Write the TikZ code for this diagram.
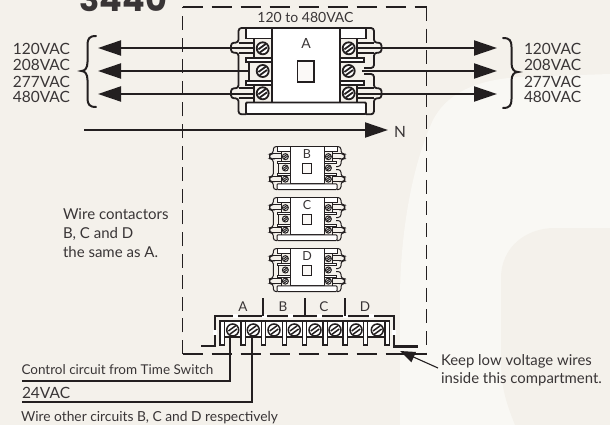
\documentclass[tikz,border=0pt]{standalone}
\usepackage{fontspec}
\setmainfont{Lato}
\newfontfamily\titlefont{Poppins}[BoldFont=* Bold]
\usetikzlibrary{arrows.meta}
\definecolor{ink}{HTML}{231F20}
\definecolor{paper}{HTML}{F4F1EB}
\definecolor{paperlight}{HTML}{F9F8F4}
\tikzset{
  every node/.style={inner sep=0pt,outer sep=0pt,text=ink!90},
  lbl/.style={anchor=base west,font=\fontsize{#1}{#1}\selectfont},
  lblc/.style={anchor=base,font=\fontsize{#1}{#1}\selectfont},
  lblr/.style={anchor=base east,font=\fontsize{#1}{#1}\selectfont},
  wire/.style={draw=ink,line width=2pt},
  lowwire/.style={draw=ink,line width=2.6pt,line join=miter},
  powerarrow/.style={wire,-{Triangle[length=23pt,width=15pt]}},
  pointer/.style={draw=ink,line width=1.1pt,-{Triangle[length=15pt,width=11pt]}},
  brace/.style={draw=ink,line width=2pt,line cap=round},
  partition/.style={draw=ink,line width=1.9pt},
  hdash/.style={partition,dash pattern=on 20pt off 9pt},
  vdash/.style={partition,dash pattern=on 14pt off 7.6pt},
  pics/screw/.style={code={
    \draw[draw=ink,line width=#1,fill=white] (0,0) circle (6);
    \draw[draw=ink,line width=#1] (-4.3,1) -- (3,-4.3) (-3,4.3) -- (4.3,-1);
  }},
  pics/contactor/.style={code={
    \begin{scope}[draw=ink,line width=#1]
    % white blocks
    \draw[fill=white] (-34,-43) rectangle (34,31.5);
    \draw[fill=white] (-60,-43) rectangle (-34,-32.5);
    \draw[fill=white] (34,-43) rectangle (60,-32.5);
    \draw[fill=white,rounded corners=1] (-60,31.5) rectangle (60,43);
    % left outline with tabs
    \draw[rounded corners=3] (-60,-43) -- (-67.5,-43) -- (-67.5,-28.3) -- (-75,-28.3) -- (-75,-18.3) -- (-67.5,-18.3)
        -- (-67.5,17.3) -- (-75,17.3) -- (-75,27.3) -- (-67.5,27.3) -- (-67.5,43.3) -- (-60,43.3);
    \draw (-67.5,-28.3) -- (-52,-28.3) (-67.5,-18.3) -- (-52,-18.3) (-67.5,17.3) -- (-52,17.3) (-67.5,27.3) -- (-52,27.3);
    \draw (-52,-32.5) -- (-52,-13) (-52,14) -- (-52,31.5);
    \draw (-56.7,-9) -- (-56.7,10);
    % right outline with tabs and jumper gap
    \draw[rounded corners=3] (60,-43) -- (68,-43) -- (68,-28.3) -- (75.5,-28.3) -- (75.5,-18.3) -- (68,-18.3) -- (68,-3) -- (58,-3);
    \draw[rounded corners=3] (58,3) -- (68,3) -- (68,17.3) -- (75.5,17.3) -- (75.5,27.3) -- (68,27.3) -- (68,43.3) -- (60,43.3);
    \draw (68,-28.3) -- (51,-28.3) (68,-18.3) -- (51,-18.3) (68,17.3) -- (51,17.3) (68,27.3) -- (51,27.3);
    \draw (51,-32.5) -- (51,-13) (51,14) -- (51,31.5);
    % terminal separators
    \draw[fill=white] (-60,-13.3) rectangle (-34,-9.3);
    \draw[fill=white] (-60,10) rectangle (-34,14);
    \draw[fill=white] (34,-13.3) rectangle (58,-9.3);
    \draw[fill=white] (34,10) rectangle (58,14);
    % screws
    \foreach \sy in {-22.7,0,22.3} {
      \pic[transform shape] at (-43.3,\sy) {screw=#1};
      \pic[transform shape] at (42.7,\sy) {screw=#1};
    }
    % coil window
    \draw[fill=paper!40!white] (-8.5,-10) rectangle (8,11);
    \end{scope}
    % wire attachment points
    \coordinate (-l1) at (-52,-23);
    \coordinate (-l2) at (-56.7,0);
    \coordinate (-l3) at (-52,23);
    \coordinate (-r1) at (51,-23);
    \coordinate (-r2) at (56,0);
    \coordinate (-r3) at (51,23);
  }}
}
\begin{document}
\begin{tikzpicture}[x=1pt,y=-1pt]
\useasboundingbox (0,0) rectangle (610,425);
\clip (0,0) rectangle (610,425);
% background
\fill[paper] (0,0) rectangle (610,425);
\fill[paperlight] (400,425) -- (400,300) .. controls (400,240) and (410,170) .. (433,120) .. controls (445,97) and (470,80) .. (520,77) -- (610,74) -- (610,425) -- cycle;
\fill[paper] (515,425) .. controls (505,400) and (501,385) .. (501,360) -- (501,278) .. controls (501,248) and (525,228) .. (555,228) -- (610,228) -- (610,425) -- cycle;

% title
\node[anchor=base west,font=\titlefont\bfseries\fontsize{33.5}{33.5}\selectfont] (title) at (79.5,12) {3440};

% compartment
\coordinate (c1) at (182.5,354);
\coordinate (c2) at (182.5,7);
\coordinate (c3) at (426.5,7);
\coordinate (c4) at (426.5,354);
\draw[vdash] (c1) -- (c2);
\draw[hdash] (c2) -- (c3);
\draw[vdash] (c3) -- (c4);
\draw[hdash] (c1) -- (c4);
\node[lblc=14] (range) at (305.5,23) {120 to 480VAC};

% contactors
\pic (A) at (306,71) {contactor=1.8pt};
\pic (B) at (307,168) [scale=0.5] {contactor=1pt};
\pic (C) at (307,219) [scale=0.5] {contactor=1pt};
\pic (D) at (307,270) [scale=0.5] {contactor=1pt};
\node[lblc=14] (lA) at (306,49) {A};
\node[lblc=12.5] (lB) at (307,158) {B};
\node[lblc=12.5] (lC) at (307,209) {C};
\node[lblc=12.5] (lD) at (307,260) {D};

% power wires
\coordinate (la1) at (98,48); \coordinate (la2) at (98,71); \coordinate (la3) at (98,94);
\coordinate (ra1) at (497,48); \coordinate (ra2) at (497,71); \coordinate (ra3) at (497,94);
\draw[powerarrow] (A-l1) -- (la1);
\draw[powerarrow] (A-l2) -- (la2);
\draw[powerarrow] (A-l3) -- (la3);
\draw[powerarrow] (A-r1) -- (ra1);
\draw[powerarrow] (A-r2) -- (ra2);
\draw[powerarrow] (A-r3) -- (ra3);
\coordinate (n0) at (84,130);
\coordinate (n1) at (388,130);
\draw[powerarrow] (n0) -- (n1);
\node[lbl=15.5] (N) at (394,138) {N};

% voltage labels and braces
\foreach \ty/\tx/\nm in {55/120VAC/a,71/208VAC/b,87.5/277VAC/c,103/480VAC/d} {
  \node[lblr=15.5] (L\nm) at (70,\ty) {\tx};
  \node[lbl=15.5] (R\nm) at (524,\ty) {\tx};
}
\draw[brace] (96,36) .. controls (89,36) and (87.5,39) .. (87.5,45) -- (87.5,62) .. controls (87.5,68) and (85,71) .. (81.5,71) .. controls (85,71) and (87.5,74) .. (87.5,80) -- (87.5,98) .. controls (87.5,104) and (89,107) .. (96,107);
\draw[brace] (503,38) .. controls (510,38) and (511.5,41) .. (511.5,47) -- (511.5,63) .. controls (511.5,69) and (514,72) .. (518,72) .. controls (514,72) and (511.5,75) .. (511.5,81) -- (511.5,99) .. controls (511.5,105) and (510,108) .. (503,108);

% note
\node[lbl=15] (n1a) at (63,219) {Wire contactors};
\node[lbl=15] (n1b) at (63,238) {B, C and D};
\node[lbl=15] (n1c) at (63,257) {the same as A.};

% terminal strip enclosure
\draw[lowwire] (201,346) -- (215,346) -- (215,316) -- (394,316) -- (394,346.5) -- (418,346.5);
\foreach \gx in {235.5,264,290,319,345,371} \fill[white] (\gx-2.5,314) rectangle (\gx+2.5,318);
\fill[white] (213,330) rectangle (217,335);
\fill[white] (392,330) rectangle (396,335);
\foreach \dx in {263.3,305,345} \draw[draw=ink,line width=1.9pt] (\dx,298) -- (\dx,316);
\node[lblc=13.5] (tA) at (243,311) {A};
\node[lblc=13.5] (tB) at (283,311) {B};
\node[lblc=13.5] (tC) at (324,311) {C};
\node[lblc=13.5] (tD) at (365,311) {D};

% terminal block
\draw[draw=ink,line width=1.4pt,fill=white] (221,321) rectangle (389,337);
\foreach \bx in {222,243,263.5,284.5,304.5,325,345,365.5,387}
  \draw[draw=ink,line width=1.4pt,fill=white] (\bx-2.2,321) rectangle (\bx+2.2,345);
\foreach \i/\sx in {1/232.7,2/253.3,3/274,4/294.3,5/315,6/335,7/356,8/377.3} {
  \pic at (\sx,330) {screw=1.5pt};
}

% control wires
\coordinate (w1) at (21.5,381);
\coordinate (w2) at (21.5,402);
\coordinate (ts1b) at (230,337);
\coordinate (ts2b) at (252,337);
\draw[lowwire] (ts1b) |- (w1);
\draw[lowwire] (ts2b) |- (w2);
\node[lbl=13.5] (t1) at (21.5,374) {Control circuit from Time Switch};
\node[lbl=15.5] (t2) at (22,398) {24VAC};
\node[lbl=13.8] (t3) at (21,421) {Wire other circuits B, C and D respectively};

% pointer
\coordinate (p0) at (438,368);
\coordinate (p1) at (400,351);
\draw[pointer] (p0) -- (p1);
\node[lbl=14.9] (k1) at (441,365) {Keep low voltage wires};
\node[lbl=14.9] (k2) at (441,383) {inside this compartment.};
\end{tikzpicture}
\end{document}
